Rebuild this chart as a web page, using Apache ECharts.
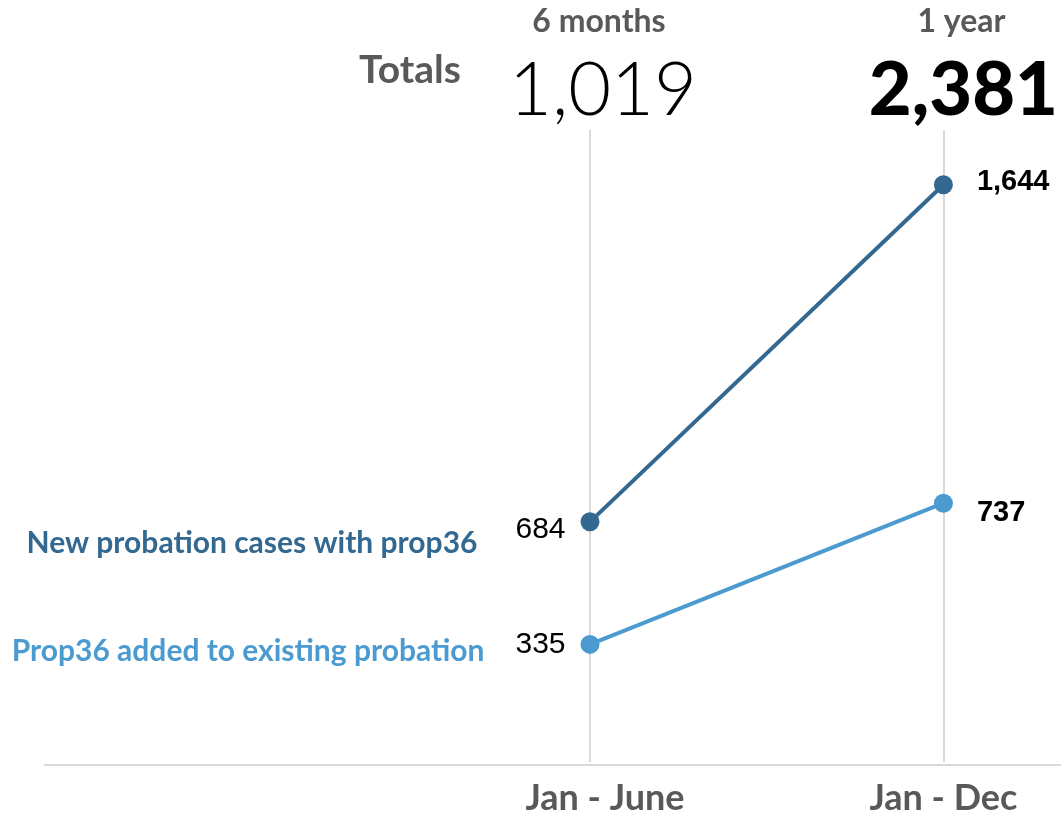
<!DOCTYPE html>
<html>
<head>
<meta charset="utf-8">
<script src="https://cdn.jsdelivr.net/npm/echarts@6/dist/echarts.min.js"></script>
<style>
  html, body { margin: 0; padding: 0; background: #fff; }
  #chart { width: 1061px; height: 816px; }
</style>
</head>
<body>
<div id="chart"></div>
<script>
// data
const periods = ["Jan - June", "Jan - Dec"];
const spans = ["6 months", "1 year"];
const seriesNames = ["New probation cases with prop36", "Prop36 added to existing probation"];
const newCases = [684, 1644];
const addedCases = [335, 737];

const totals = periods.map((p, i) => newCases[i] + addedCases[i]);
const fmt = (v) => v.toLocaleString("en-US");

const darkBlue = "#336991";
const lightBlue = "#4b9bd0";
const gray = "#595959";

const chart = echarts.init(document.getElementById("chart"));

// left label: series name + first value
function firstLabel(name, value, namePad, gap, color, dy) {
  return {
    show: true,
    position: "left",
    distance: 15,
    offset: [0, dy],
    formatter: "{n|" + name + "}{v|" + value + "}",
    rich: {
      n: {
        fontFamily: "Lato",
        fontWeight: "bold",
        fontSize: 30,
        color: color,
        padding: [namePad, gap, 0, 0],
      },
      v: {
        fontFamily: "Liberation Sans",
        fontSize: 30,
        color: "#000",
      },
    },
  };
}

function lastLabel(dy) {
  return {
    show: true,
    position: "right",
    distance: 24,
    offset: [0, dy],
    fontFamily: "Liberation Sans",
    fontWeight: "bold",
    fontSize: 29,
    color: "#000",
    formatter: (p) => fmt(p.value),
  };
}

chart.setOption({
  animation: false,
  title: {
    text: "Totals",
    left: 354,
    top: 46,
    textStyle: { fontFamily: "Lato", fontWeight: "bold", fontSize: 39, color: gray },
  },
  grid: [
    { left: 590, right: 111, top: 130, bottom: 52 },
    { left: 45, right: 0, top: 130, bottom: 51 },
  ],
  xAxis: [
    {
      type: "category",
      gridIndex: 0,
      position: "bottom",
      boundaryGap: false,
      data: periods,
      axisLine: { show: false },
      axisTick: { show: false },
      splitLine: { show: true, lineStyle: { color: "#d9d9d9", width: 2 } },
      axisLabel: {
        margin: 18,
        formatter: (v, i) => "{c" + i + "|" + v + "}",
        rich: {
          c0: { fontFamily: "Lato", fontWeight: "bold", fontSize: 36, color: gray, padding: [0, 0, 0, 30] },
          c1: { fontFamily: "Lato", fontWeight: "bold", fontSize: 36, color: gray, padding: [0, 0, 0, 0] },
        },
      },
    },
    {
      type: "category",
      gridIndex: 0,
      position: "top",
      boundaryGap: false,
      data: periods,
      axisLine: { show: false },
      axisTick: { show: false },
      axisLabel: {
        margin: 2,
        formatter: (v, i) => "{p" + i + "|" + spans[i] + "}\n{t" + i + "|" + fmt(totals[i]) + "}",
        rich: {
          p0: { fontFamily: "Lato", fontWeight: "bold", fontSize: 32, color: gray, lineHeight: 64, padding: [0, 0, 0, 18] },
          t0: { fontFamily: "Lato", fontWeight: 300, fontSize: 74, color: "#000", lineHeight: 74, padding: [0, 0, 0, 26] },
          p1: { fontFamily: "Lato", fontWeight: "bold", fontSize: 32, color: gray, lineHeight: 64, padding: [0, 0, 0, 36] },
          t1: { fontFamily: "Lato", fontWeight: 900, fontSize: 74, color: "#000", lineHeight: 74, padding: [0, 0, 0, 40] },
        },
      },
    },
    {
      type: "value",
      gridIndex: 1,
      position: "bottom",
      axisLine: { show: true, onZero: false, lineStyle: { color: "#d9d9d9", width: 2 } },
      axisTick: { show: false },
      axisLabel: { show: false },
      splitLine: { show: false },
    },
  ],
  yAxis: [
    { type: "value", gridIndex: 0, min: 0, max: 1800, show: false },
    { type: "value", gridIndex: 1, show: false },
  ],
  series: [
    {
      name: seriesNames[0],
      type: "line",
      xAxisIndex: 0,
      yAxisIndex: 0,
      symbol: "circle",
      symbolSize: 19,
      lineStyle: { color: darkBlue, width: 4 },
      itemStyle: { color: darkBlue },
      data: [
        { value: newCases[0], label: firstLabel(seriesNames[0], fmt(newCases[0]), 26, 38, darkBlue, 8) },
        { value: newCases[1], label: lastLabel(-3) },
      ],
    },
    {
      name: seriesNames[1],
      type: "line",
      xAxisIndex: 0,
      yAxisIndex: 0,
      symbol: "circle",
      symbolSize: 19,
      lineStyle: { color: lightBlue, width: 4 },
      itemStyle: { color: lightBlue },
      data: [
        { value: addedCases[0], label: firstLabel(seriesNames[1], fmt(addedCases[0]), 14, 31, lightBlue, 0) },
        { value: addedCases[1], label: lastLabel(10) },
      ],
    },
  ],
});

window.addEventListener("resize", () => chart.resize());
</script>
</body>
</html>
